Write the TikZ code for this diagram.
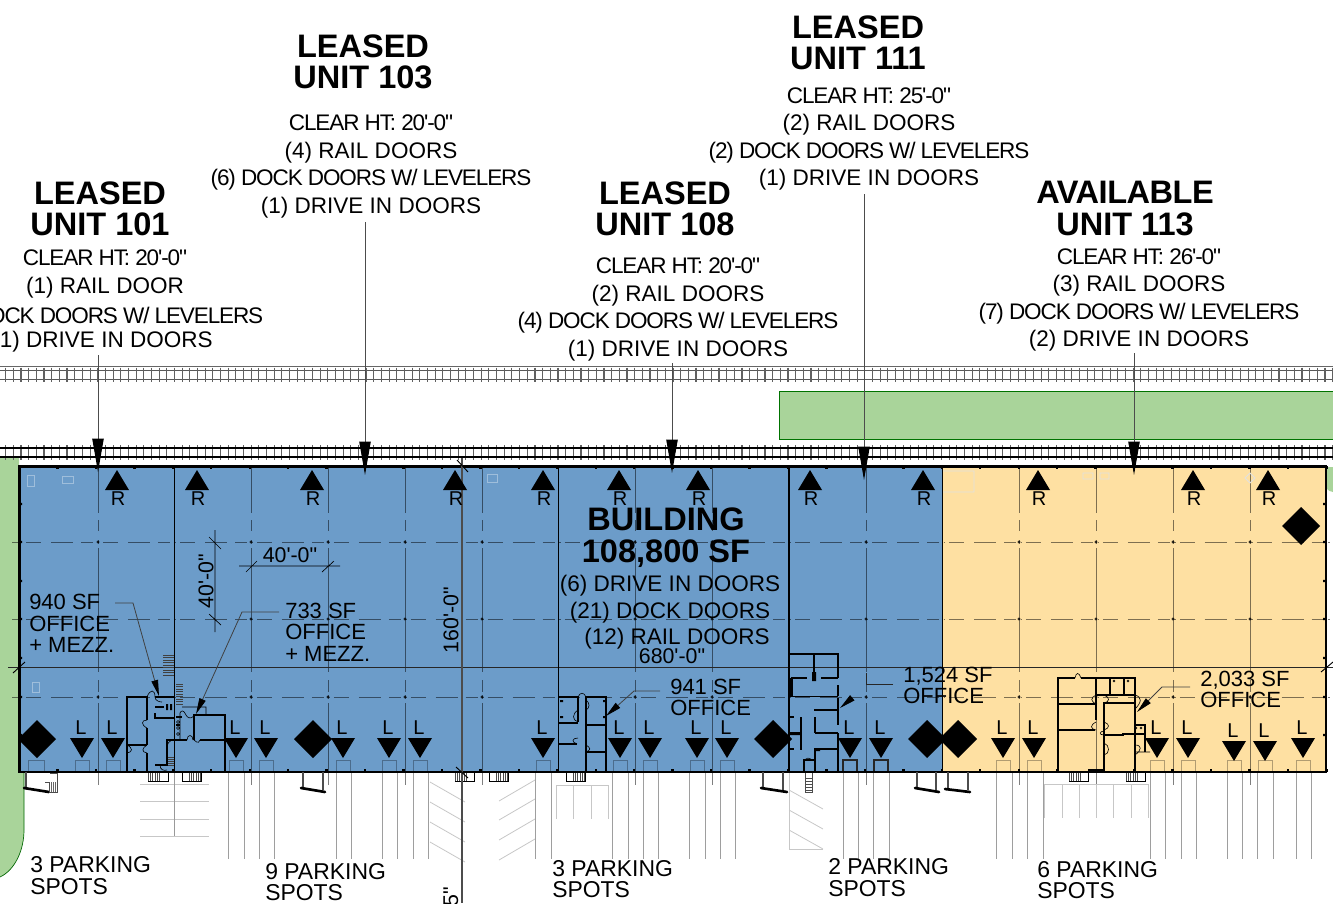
\documentclass[tikz,border=0pt]{standalone}
\usepackage{fontspec}
\usetikzlibrary{arrows.meta}
\newfontfamily\arl{Liberation Sans}
\newfontfamily\tg[LetterSpace=-5]{Liberation Sans}
\newfontfamily\tgb[LetterSpace=-1.5]{Liberation Sans Bold}
\definecolor{bluefill}{HTML}{6C9CC9}
\definecolor{yellowfill}{HTML}{FEE0A2}
\definecolor{greenfill}{HTML}{A9D49A}
\tikzset{
  head/.style={font={\arl\bfseries\fontsize{24.4}{23.4}\selectfont},align=center,inner sep=0pt},
  bhead/.style={font={\arl\bfseries\fontsize{24.4}{24}\selectfont},align=center,inner sep=0pt},
  body/.style={font={\arl\fontsize{16.9}{20.6}\selectfont},align=center,inner sep=0pt},
  lbl/.style={font={\arl\fontsize{16.5}{16.2}\selectfont},align=left,inner sep=0pt,anchor=west},
  park/.style={font={\arl\fontsize{17.2}{16.2}\selectfont},align=left,inner sep=0pt,anchor=west},
  dim/.style={font={\arl\fontsize{16}{16}\selectfont},inner sep=0pt},
  mk/.style={font={\arl\fontsize{15}{16}\selectfont},inner sep=0pt},
  wall/.style={line width=1.25pt,black},
  thinw/.style={line width=.45pt,black},
  grid/.style={line width=.6pt,black,opacity=.5},
  parkl/.style={line width=.7pt,black!38},
  faint/.style={line width=.6pt,black!22},
  leader/.style={line width=.75pt,black!70,-{Triangle[length=25pt,width=8.5pt,black]}},
  oleader/.style={line width=.6pt,black!75,-{Triangle[length=12pt,width=5pt,black]}},
  icon/.style={line width=.6pt,white,opacity=.35},
}
\newcommand\nub[4]{% x1 x2 hatch-start hatch-end
  \draw[line width=.6pt,black] (#1,773) -- (#1,781) -- (#2,781) -- (#2,773);
  \foreach \h in {#3,...,#4} \draw[line width=.4pt,black!70] (#1+\h*2.3,773) -- (#1+\h*2.3,781);
}
\begin{document}
\begin{tikzpicture}[x=.75pt,y=-.75pt]
\useasboundingbox (0,0) rectangle (1333,903);
% green areas
\fill[greenfill] (0,458) -- (19,458) -- (19,772) -- (24,772) -- (24,830) .. controls (24,850) and (15,870) .. (0,877) -- cycle;
\draw[line width=.5pt,black!60!green] (24,772) -- (24,830) .. controls (24,850) and (15,870) .. (0,877);
\fill[greenfill] (1327,467) -- (1333,467) -- (1333,492) .. controls (1330,492) and (1328,490) .. (1327,489) -- cycle;
\fill[greenfill,draw=black!55!green,line width=.6pt] (1340,391) -- (779.5,391) -- (779.5,439) -- (1340,439);
% rail tracks
\draw[line width=.5pt,black!60] (0,366) -- (1333,366);
\draw[line width=1.2pt,black!65] (0,370.5) -- (1333,370.5) (0,379.5) -- (1333,379.5);
\foreach \i in {0,...,174} {
  \draw[line width=.85pt,black!62] (5.7+\i*7.67,367.5) -- (5.7+\i*7.67,382);
  \draw[line width=.85pt,black!62] (5.7+\i*7.67,445) -- (5.7+\i*7.67,460);
}
\draw[line width=1.2pt,black] (0,447.7) -- (1333,447.7) (0,457) -- (1333,457);
% building fills
\fill[bluefill] (19,466) rectangle (943,772);
\fill[yellowfill] (943,466) rectangle (1326,772);
% column grid
\foreach \x in {98,251,328,405,482,635,712,866,1019,1096,1173,1250} {
  \draw[grid] (\x,466) -- (\x,513) (\x,520) -- (\x,531) (\x,540) -- (\x,544) (\x,548) -- (\x,672)
    (\x,680) -- (\x,692) (\x,695) -- (\x,699) (\x,703) -- (\x,772) (\x,773) -- (\x,785);
  \fill[black,opacity=.8] (\x,542) circle (1.6) (\x,619) circle (1.6) (\x,697) circle (1.6);
}
\foreach \y in {542,619,697} {
  \draw[grid,dash pattern=on 1pt off 3pt on 11.2pt off 7.5pt on 16.5pt off 6pt on 9pt off 3.47pt] (21,\y) -- (1333,\y);
  \draw[grid] (12,\y) -- (19,\y);
}
\draw[line width=.6pt,black!85] (8,667) -- (1333,667);
% faint icons
\draw[icon] (27,475) rectangle (34,486) (62,476) rectangle (73,483) (32,682) rectangle (39,692) (487,474) rectangle (497,482);
\draw[line width=.6pt,black!12] (943,471) -- (974,471) -- (974,492) -- (943,492) (1083,473) rectangle (1093,479) (1100,473) rectangle (1109,479)
  (1250,473) -- (1255,478) -- (1250,483) -- (1245,478) -- cycle;
% dock door boxes
\foreach \x in {82,113,236,266,343,389,420,543,620,650,697,727,1003,1034,1157,1188,1234,1265,1303}
  \draw[line width=.6pt,black,opacity=.3] (\x-7,772) -- (\x-7,760) -- (\x+7,760) -- (\x+7,772);
\foreach \x in {850,881}
  \draw[line width=.8pt,black!85] (\x-7,772) -- (\x-7,760) -- (\x+7,760) -- (\x+7,772);
\draw[line width=.6pt,black,opacity=.3] (28,772) -- (28,760) -- (44,760) -- (44,772);
% parking stall lines
\foreach \x in {228,244,259,274,336,351,382,397,413,428,535,551,612,628,643,658,689,705,720,735,843,858,873,889,996,1012,1027,1043,1150,1165,1181,1196,1227,1242,1257,1273,1296,1311}
  \draw[parkl] (\x,772) -- (\x,859);
% striped pavement
\draw[faint] (140,784) -- (209,784) (140,801) -- (209,801) (140,819) -- (209,819) (140,836) -- (209,836);
\draw[line width=.5pt,black!40] (174,772) -- (174,836);
\foreach \y in {782,802,822,842} \draw[faint] (430,\y) -- (465,\y+20);
\foreach \y in {801,820,840,860} \draw[faint] (499,\y) -- (535,\y-21);
\draw[faint] (556,819) -- (556,785) -- (608,785) -- (608,819) (573,785) -- (573,819) (591,785) -- (591,819);
\draw[faint] (1044,818) -- (1044,784) -- (1148,784) -- (1148,818);
\foreach \x in {1062,1079,1096,1113,1131} \draw[faint] (\x,784) -- (\x,818);
\draw[faint] (789,772) -- (789,849) -- (823,849);
\foreach \y in {790,810,830} \draw[faint] (789,\y) -- (823,\y+19);
% partitions and outer wall
\draw[line width=1.4pt,black] (174.5,466) -- (174.5,772) (558.5,466) -- (558.5,772) (789,466) -- (789,772) (942.5,466) -- (942.5,772);
\draw[line width=1.7pt,black] (19.5,466.5) rectangle (1326,772);
\foreach \i in {0,...,34} {
  \fill[black] (19+\i*38.45-1.2,466) rectangle (19+\i*38.45+1.2,469);
  \fill[black] (19+\i*38.45-1.2,769) rectangle (19+\i*38.45+1.2,772);
}
\foreach \y in {504,542,581,619,658,697,735} \fill[black] (19,\y-1.2) rectangle (22,\y+1.2) (1323,\y-1.2) rectangle (1326,\y+1.2);
% truck doors
\draw[line width=1pt,black!70] (26,772) -- (26,787) (303,772) -- (303,788) (323,772) -- (323,790) (763,772) -- (763,788) (783,772) -- (783,790)
  (917,772) -- (917,788) (936,772) -- (936,790) (948,772) -- (948,789) (968,772) -- (968,790);
\draw[line width=2pt,black,line cap=round] (24,788) -- (49,792) (301,788) -- (325,792) (761,788) -- (787,792) (915,788) -- (939,792) (945,789) -- (970,792);
\draw[line width=.6pt,black!70] (50,773) -- (57,773) -- (57,792) -- (49,792) (45,782) -- (49,782) -- (49,792);
\foreach \x in {51,53,55} \draw[line width=.4pt,black!60] (\x,782) -- (\x,792);
% stair nubs
\nub{148}{168}{0}{5} \nub{182}{201}{3}{8} \nub{455}{474}{0}{5} \nub{489}{508}{3}{8} \nub{566}{585}{3}{8} \nub{1069}{1088}{0}{5} \nub{1126}{1145}{0}{5}
\draw[line width=.6pt,black!70] (805,773) -- (805,792) -- (812,792) -- (812,773);
\foreach \y in {778,781,784,787,790} \draw[line width=.4pt,black!70] (805,\y) -- (812,\y);
% stairs in unit 101/103
\foreach \y in {655,657.5,...,677} \draw[line width=.5pt,black!75] (163,\y) -- (174,\y);
\foreach \y in {684,686.5,...,705} \draw[line width=.5pt,black!75] (176,\y) -- (183,\y);
\foreach \y in {757,759,...,765} \draw[line width=.5pt,black!75] (168,\y) -- (174,\y);
% office 101
\draw[wall] (127,772) -- (127,697) -- (147,697) -- (147,720) (147,728) -- (147,745) (147,753) -- (147,772) (127,745) -- (147,745);
\draw[wall] (155,697) -- (174,697) (155,713) -- (155,718) -- (174,718) (174,740) -- (167,740) -- (167,765) -- (155,765);
\draw[wall,line width=1.9pt] (155,707) -- (164,707);
\draw[thinw] (147,697) .. controls (150,689) and (155,689) .. (155,697) (147,720) .. controls (141,720) and (141,725) .. (147,728)
  (147,745) .. controls (142,748) and (141,752) .. (147,753) (127,745) .. controls (133,748) and (133,752) .. (127,753) (174,740) .. controls (169,740) and (167,744) .. (167,748)
  (155,697) .. controls (155,701) and (160,702) .. (162,702) (160,765) .. controls (160,770) and (164,771) .. (167,770);
\fill[black] (166,704) rectangle (168,710) (170,704) rectangle (172,710);
% office 103
\draw[wall] (194,740) -- (194,715) -- (225,715) -- (225,772) (200,740) -- (225,740) (175,740) -- (187,740);
\draw[thinw] (194,716) .. controls (190,720) and (187,717) .. (186,715) (186,715) .. controls (184,710) and (181,710) .. (180,713) -- (180,740) (194,740) .. controls (198,744) and (200,742) .. (200,740) (187,740) .. controls (187,734) and (193,734) .. (193,740) (182,707) -- (206,707) -- (206,715)
  (178,722) circle (1.5) (178,728) circle (1.5) (178,734) circle (1.5);
\draw[wall,line width=.8pt] (176,717) -- (182,717) (176,725) -- (180,725);
% office 108
\draw[wall] (559,697) -- (578,697) -- (578,722) (559,723) -- (578,723) (586,772) -- (586,697) -- (606,697) -- (606,772) (586,725) -- (606,725) (586,752) -- (606,752) (559,744) -- (577,744);
\draw[thinw] (578,697) .. controls (580,692) and (584,692) .. (586,697) (578,722) .. controls (572,720) and (572,714) .. (578,710) (586,752) .. controls (591,750) and (591,748) .. (586,745) (577,744) .. controls (571,742) and (572,738) .. (578,738) (586,710) .. controls (590,708) and (590,703) .. (586,700);
\fill[black] (560,700) rectangle (563,702) (560,716) rectangle (563,718) (603,700) rectangle (605,702) (603,716) rectangle (605,718);
% office 111
\draw[wall,line width=1.1pt] (789,654) -- (838,654) -- (838,678) (791,678) -- (807,678) (821,678) -- (838,678) (814,654) -- (814,677) (789,696.5) -- (838,696.5) (838,685) -- (838,696)
  (838,698) -- (838,725) (814,710) -- (838,710) (838,733) -- (838,772) (815,717) -- (815,733) (815,748) -- (815,772) (815,733) -- (838,733) (815,749) -- (838,749);
\draw[wall,line width=1.6pt] (791.5,678) -- (791.5,696) (801,717) -- (801,750);
\fill[black] (812,672) rectangle (816,681) (814,748) rectangle (820,751) (790,732) rectangle (800,735);
\draw[wall,line width=.8pt] (789,717) -- (794,717) (804,772) -- (804,760) -- (815,760) (789,749) -- (794,749);
\draw[thinw] (804,760) .. controls (806,758) and (809,757) .. (812,760);
% office 113
\draw[wall] (1058,772) -- (1058,678) -- (1075,678) (1081,678) -- (1135,678) -- (1135,772) (1058,704) -- (1095,704) (1058,730) -- (1095,730) (1096,678) -- (1096,720)
  (1104,772) -- (1104,703) -- (1135,703) (1097,695) -- (1135,695) (1104,735) -- (1123,735) -- (1123,734) -- (1145,734) (1135,725) -- (1145,725) -- (1145,752);
\draw[wall,line width=2.2pt] (1088,770.5) -- (1104,770.5);
\draw[wall,line width=.9pt] (1110,678) -- (1110,695) (1124,678) -- (1124,695) (1106,695) -- (1112,695) (1119,695) -- (1127,695);
\draw[thinw] (1075,678) .. controls (1076,672) and (1079,672) .. (1081,678) (1097,695) .. controls (1090,697) and (1090,702) .. (1097,704) (1104,695) .. controls (1110,697) and (1110,702) .. (1104,703) (1135,695) .. controls (1142,697) and (1142,702) .. (1135,709)
  (1096,730) .. controls (1090,729) and (1090,725) .. (1096,722) (1104,730) .. controls (1110,728) and (1110,724) .. (1104,722) (1104,735) .. controls (1098,735) and (1100,731) .. (1104,731) (1104,755) .. controls (1110,754) and (1110,745) .. (1104,743) (1135,752) -- (1150,752) (1135,755) .. controls (1142,750) and (1142,745) .. (1135,745);
\draw[thinw] (1114,681) circle (1) (1128,681) circle (1) (1136,728) circle (1) (1141,728) circle (1);
% dimensions
\draw[line width=.5pt,black] (239,566) -- (340,566) (246,572) -- (257,561) (322,572) -- (334,561);
\draw[line width=.5pt,black] (215,530) -- (215,632) (209,537) -- (221,549) (209,614) -- (221,625);
\draw[line width=.8pt,black!70] (462,458) -- (462,903);
\draw[line width=.7pt,black] (457,460) -- (468,472) (456,767) -- (468,778) (13,673) -- (25,662) (1321,672) -- (1333,662);
% R and L markers
\foreach \x[count=\i] in {117,197,312,455,543,619,698,810,923,1038,1193,1268} {
  \fill[black] (\x-12,490) -- (\x,470) -- (\x+12,490) -- cycle;
  \node[mk] (r\i) at (\x+1,498.5) {R};
}
\foreach \x[count=\i] in {82,113,236,266,343,389,420,543,620,650,697,727,850,881,1003,1034,1157,1188,1303} {
  \fill[black] (\x-12,738) -- (\x,758) -- (\x+12,738) -- cycle;
  \node[mk] (l\i) at (\x-1,728) {L};
}
\foreach \x[count=\i] in {1234,1265} {
  \fill[black] (\x-12,741) -- (\x,761) -- (\x+12,741) -- cycle;
  \node[mk] (m\i) at (\x-1,731) {L};
}
\foreach \x/\y in {37/739,313/739,773/739,927/739,958/739,1301/526}
  \fill[black] (\x-19,\y) -- (\x,\y-19) -- (\x+19,\y) -- (\x,\y+19) -- cycle;
% unit labels
\node[head] (h101) at (100,208.5) {LEASED\\UNIT 101};
\node[body] (b101) at (105,274) {{\tg CLEAR HT: 20'-0"}\\(1) RAIL DOOR};
\node[body,anchor=east] (c101) at (263.5,315) {\tg OCK DOORS W/ LEVELERS};
\node[body,anchor=east] (d101) at (213,342) {1) DRIVE IN DOORS};
\node[head] (h103) at (363,61.5) {LEASED\\UNIT 103};
\node[body] (b103) at (371,166.5) {{\tg CLEAR HT: 20'-0"}\\(4) RAIL DOORS\\{\tg (6) DOCK DOORS W/ LEVELERS}\\(1) DRIVE IN DOORS};
\node[head] (h108) at (665,209) {LEASED\\UNIT 108};
\node[body] (b108) at (678,309.5) {{\tg CLEAR HT: 20'-0"}\\(2) RAIL DOORS\\{\tg (4) DOCK DOORS W/ LEVELERS}\\(1) DRIVE IN DOORS};
\node[head] (h111) at (858,42.5) {LEASED\\UNIT 111};
\node[body] (b111) at (869,139) {{\tg CLEAR HT: 25'-0"}\\(2) RAIL DOORS\\{\tg (2) DOCK DOORS W/ LEVELERS}\\(1) DRIVE IN DOORS};
\node[head] (h113) at (1125,208.5) {{\tgb AVAILABLE}\\UNIT 113};
\node[body] (b113) at (1139,300) {{\tg CLEAR HT: 26'-0"}\\(3) RAIL DOORS\\{\tg (7) DOCK DOORS W/ LEVELERS}\\(2) DRIVE IN DOORS};
% building label
\node[bhead] (hb) at (666,538) {BUILDING\\108,800 SF};
\node[body] (bb1) at (670,599) {(6) DRIVE IN DOORS\\(21) DOCK DOORS};
\node[body] (bb2) at (677,639) {(12) RAIL DOORS};
\node[dim] (d680) at (672,656) {680'-0"};
\node[dim] (d40h) at (290,555) {40'-0"};
\node[dim,rotate=90] (d40v) at (206,581) {40'-0"};
\node[dim,rotate=90] (d160) at (451,620) {160'-0"};
\node[dim,rotate=90] (d5) at (451,897) {5"};
% office and parking labels
\node[lbl] (o940) at (29,623.5) {940 SF\\OFFICE\\+ MEZZ.};
\node[lbl] (o733) at (285,632) {733 SF\\OFFICE\\+ MEZZ.};
\node[lbl] (o941) at (670,697.5) {941 SF\\OFFICE};
\node[lbl] (o1524) at (903,685.5) {1,524 SF\\OFFICE};
\node[lbl] (o2033) at (1200,689.5) {2,033 SF\\OFFICE};
\node[park] (p1) at (30,875.5) {3 PARKING\\SPOTS};
\node[park] (p2) at (265,882) {9 PARKING\\SPOTS};
\node[park] (p3) at (552,879) {3 PARKING\\SPOTS};
\node[park] (p4) at (828,877.5) {2 PARKING\\SPOTS};
\node[park] (p5) at (1037,880) {6 PARKING\\SPOTS};
% unit leaders
\coordinate (s101) at (98,355); \coordinate (t101) at (98,472);
\coordinate (s103) at (365,222); \coordinate (t103) at (365,475);
\coordinate (s108) at (672,363); \coordinate (t108) at (672,473);
\coordinate (s111) at (864,194); \coordinate (t111) at (864,480);
\coordinate (s113) at (1134,353); \coordinate (t113) at (1134,475);
\draw[leader] (s101) -- (t101);
\draw[leader] (s103) -- (t103);
\draw[leader] (s108) -- (t108);
\draw[leader] (s111) -- (t111);
\draw[leader] (s113) -- (t113);
% office leaders
\coordinate (a940) at (159,696); \coordinate (a733) at (196,714); \coordinate (a941) at (606,716); \coordinate (a1524) at (840,708); \coordinate (a2033) at (1137,712);
\draw[oleader] (115,603) -- (133,603) -- (a940);
\draw[oleader] (279,612) -- (242,612) -- (a733);
\draw[oleader] (660,691) -- (634,691) -- (a941);
\draw[line width=.7pt,black!85] (893,684) -- (866,684) -- (866,673);
\draw[oleader] (852,698) -- (a1524);
\draw[oleader] (1190,687) -- (1162,687) -- (a2033);
\end{tikzpicture}
\end{document}
